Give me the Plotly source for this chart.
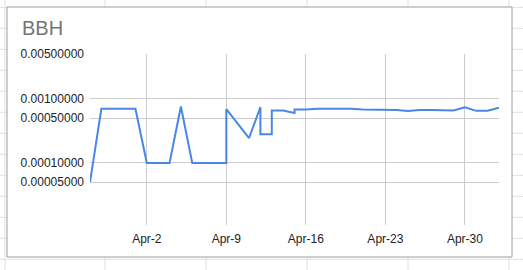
import plotly.graph_objects as go

dates = ["2018-03-28", "2018-03-29", "2018-03-30", "2018-03-31", "2018-04-01",
         "2018-04-02", "2018-04-03", "2018-04-04", "2018-04-05", "2018-04-06",
         "2018-04-07", "2018-04-08", "2018-04-09", "2018-04-09", "2018-04-11",
         "2018-04-12", "2018-04-12", "2018-04-13", "2018-04-13", "2018-04-14",
         "2018-04-15", "2018-04-15", "2018-04-16", "2018-04-17", "2018-04-18",
         "2018-04-19", "2018-04-20", "2018-04-21", "2018-04-22", "2018-04-23",
         "2018-04-24", "2018-04-25", "2018-04-26", "2018-04-27", "2018-04-28",
         "2018-04-29", "2018-04-30", "2018-05-01", "2018-05-02", "2018-05-03"]
values = [0.00005, 0.0007, 0.0007, 0.0007, 0.0007,
          0.0001, 0.0001, 0.0001, 0.00076, 0.0001,
          0.0001, 0.0001, 0.0001, 0.00069, 0.000245,
          0.00074, 0.00028, 0.00028, 0.00066, 0.00066,
          0.0006, 0.00068, 0.00068, 0.0007, 0.0007,
          0.0007, 0.0007, 0.00068, 0.00068, 0.00067,
          0.00067, 0.000645, 0.00067, 0.00067, 0.00066,
          0.00066, 0.00074, 0.00065, 0.00065, 0.00073]

y_tickvals = [0.00005, 0.0001, 0.0005, 0.001, 0.005]
y_ticktext = ["0.00005000", "0.00010000", "0.00050000", "0.00100000", "0.00500000"]
x_tickvals = ["2018-04-02", "2018-04-09", "2018-04-16", "2018-04-23", "2018-04-30"]
x_ticktext = ["Apr-2", "Apr-9", "Apr-16", "Apr-23", "Apr-30"]
title_text = "BBH"

W, H = 523, 270
L, R, T, B = 90, 24, 54, 45
PW, PH = W - L - R, H - T - B

def px(x):
    return (x - L) / PW

def py(y):
    return 1 - (y - T) / PH

shapes = []
grid_col = "#e0e0e0"
# spreadsheet grid behind the chart
for gx in [5, 105, 206, 307, 408, 509]:
    shapes.append(dict(type="line", xref="paper", yref="paper", x0=px(gx), x1=px(gx),
                       y0=py(0), y1=py(H), line=dict(color=grid_col, width=1), layer="below"))
gy = 7.3
while gy < H:
    shapes.append(dict(type="line", xref="paper", yref="paper", x0=px(0), x1=px(W),
                       y0=py(gy), y1=py(gy), line=dict(color=grid_col, width=1), layer="below"))
    gy += 21
# chart box
shapes.append(dict(type="rect", xref="paper", yref="paper", x0=px(7), x1=px(512),
                   y0=py(257), y1=py(7), fillcolor="white",
                   line=dict(color="#9e9e9e", width=1), layer="below"))

fig = go.Figure()
fig.add_trace(go.Scatter(x=dates, y=values, mode="lines",
                         line=dict(color="#4a86e8", width=2), hoverinfo="skip"))

fig.update_layout(
    width=W, height=H,
    margin=dict(l=L, r=R, t=T, b=B, pad=0),
    paper_bgcolor="white",
    plot_bgcolor="rgba(0,0,0,0)",
    showlegend=False,
    shapes=shapes,
    font=dict(family="Liberation Sans, Arial, sans-serif", size=12, color="#222222"),
    annotations=[dict(text=title_text, xref="paper", yref="paper", x=px(20), y=py(28.5),
                      xanchor="left", yanchor="middle", showarrow=False,
                      font=dict(size=20, color="#757575"))],
    xaxis=dict(type="date", range=["2018-03-28", "2018-05-03"],
               tickvals=x_tickvals, ticktext=x_ticktext,
               showgrid=True, gridcolor="#cccccc", gridwidth=1,
               showline=False, zeroline=False, ticks="", ticklabelstandoff=5),
    yaxis=dict(type="log", range=[-4.967, -2.301],
               tickvals=y_tickvals, ticktext=y_ticktext,
               showgrid=True, gridcolor="#cccccc", gridwidth=1,
               showline=False, zeroline=False, ticks="", ticklabelstandoff=5),
)

fig.write_html("out.html", config={"displayModeBar": False})
